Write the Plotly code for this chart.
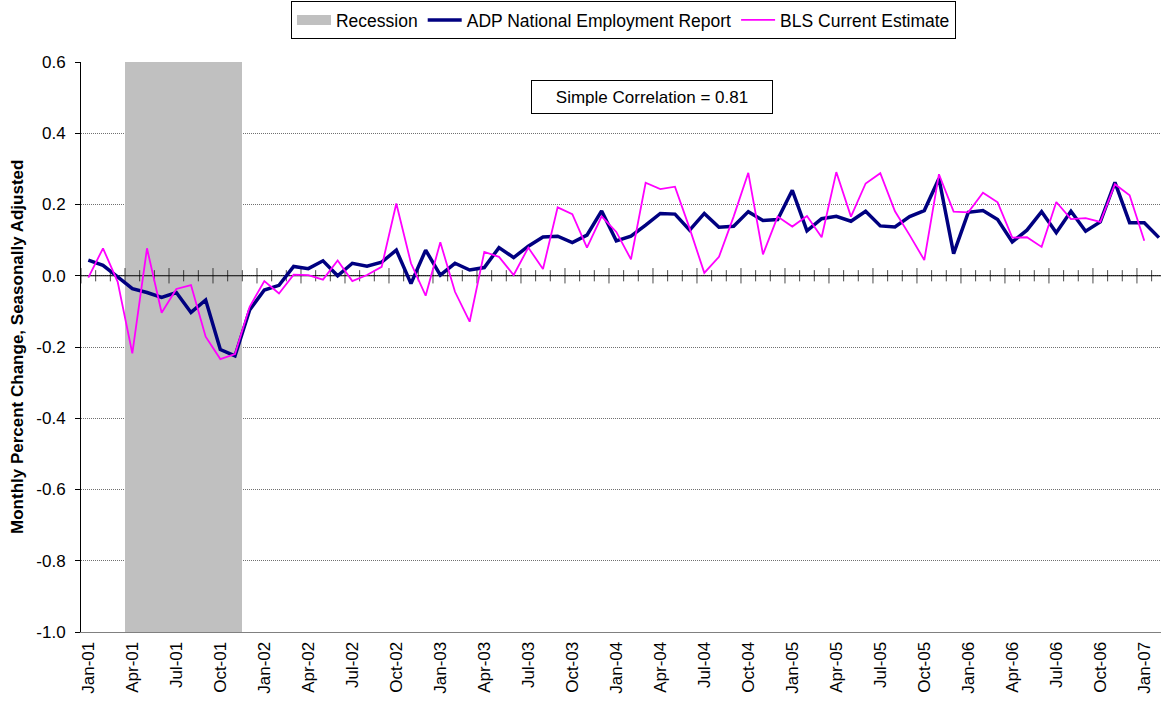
import pandas as pd
import plotly.graph_objects as go

months = pd.date_range("2001-01-01", periods=74, freq="MS").strftime("%b-%y").tolist()

adp = [0.044, 0.029, -0.003, -0.036, -0.047, -0.061, -0.047, -0.103, -0.068, -0.207,
       -0.225, -0.096, -0.040, -0.027, 0.026, 0.020, 0.042, 0.000, 0.035, 0.027,
       0.038, 0.072, -0.022, 0.072, 0.002, 0.035, 0.016, 0.023, 0.079, 0.051,
       0.083, 0.109, 0.111, 0.093, 0.114, 0.182, 0.098, 0.111, 0.142, 0.175,
       0.173, 0.128, 0.175, 0.136, 0.139, 0.180, 0.155, 0.158, 0.240, 0.126,
       0.160, 0.167, 0.153, 0.181, 0.140, 0.137, 0.166, 0.183, 0.273, 0.062,
       0.178, 0.183, 0.158, 0.095, 0.128, 0.180, 0.121, 0.181, 0.125, 0.151,
       0.262, 0.149, 0.149, 0.107]

bls = [-0.005, 0.077, -0.017, -0.218, 0.077, -0.104, -0.037, -0.026, -0.171, -0.234,
       -0.220, -0.087, -0.015, -0.050, 0.003, 0.002, -0.011, 0.043, -0.015, 0.002,
       0.025, 0.203, 0.035, -0.056, 0.094, -0.045, -0.129, 0.067, 0.053, 0.002,
       0.079, 0.019, 0.192, 0.173, 0.079, 0.167, 0.123, 0.046, 0.261, 0.243,
       0.250, 0.133, 0.008, 0.053, 0.166, 0.289, 0.060, 0.166, 0.138, 0.168,
       0.108, 0.291, 0.166, 0.259, 0.288, 0.181, 0.114, 0.044, 0.285, 0.180,
       0.178, 0.233, 0.206, 0.107, 0.108, 0.081, 0.207, 0.159, 0.162, 0.151,
       0.257, 0.226, 0.098]

recession_months = ["Apr-01", "May-01", "Jun-01", "Jul-01", "Aug-01", "Sep-01", "Oct-01", "Nov-01"]

y_ticks = [-1.0, -0.8, -0.6, -0.4, -0.2, 0.0, 0.2, 0.4, 0.6]
y_tick_labels = ["-1.0", "-0.8", "-0.6", "-0.4", "-0.2", "0.0", "0.2", "0.4", "0.6"]
x_tick_labels = months[::3]
correlation_text = "Simple Correlation = 0.81"
y_title = "Monthly Percent Change, Seasonally Adjusted"

FONT = "Arial, 'Liberation Sans', sans-serif"
FS = 17

y_min, y_max = y_ticks[0], y_ticks[-1]
idx = list(range(len(months)))
rec_x = [months.index(m) for m in recession_months]

fig = go.Figure()

fig.add_trace(go.Bar(
    x=rec_x, y=[y_max - y_min] * len(rec_x), base=y_min, width=1,
    marker=dict(color="#C0C0C0", line=dict(width=0)),
    name="Recession", showlegend=False, hoverinfo="skip"))

# legend entry for the recession shading (wide grey swatch)
fig.add_trace(go.Scatter(
    x=[None], y=[None], mode="lines", name="Recession",
    line=dict(color="#C0C0C0", width=12), hoverinfo="skip"))

# zero-crossing category axis with tick marks at category boundaries
bounds = [k - 0.5 for k in range(len(months) + 1)]
sizes = [11 if k % 3 == 0 else 8 for k in range(len(months) + 1)]
fig.add_trace(go.Scatter(
    x=bounds, y=[0] * len(bounds), mode="lines+markers",
    line=dict(color="black", width=1),
    marker=dict(symbol="line-ns", size=sizes, line=dict(color="black", width=1)),
    showlegend=False, hoverinfo="skip"))

fig.add_trace(go.Scatter(
    x=idx, y=adp, mode="lines", name="ADP National Employment Report",
    line=dict(color="#000080", width=3.5)))

fig.add_trace(go.Scatter(
    x=list(range(len(bls))), y=bls, mode="lines", name="BLS Current Estimate",
    line=dict(color="#FF00FF", width=1.8)))

fig.update_layout(
    width=1161, height=703,
    margin=dict(l=81, r=0, t=62, b=71, autoexpand=False),
    paper_bgcolor="white", plot_bgcolor="white",
    font=dict(family=FONT, size=FS, color="black"),
    bargap=0,
    legend=dict(orientation="h", x=0.5023, xanchor="center", y=1.107, yanchor="top",
                bordercolor="black", borderwidth=1, bgcolor="white",
                font=dict(size=17.5, family=FONT), traceorder="normal",
                itemwidth=34, tracegroupgap=0),
    xaxis=dict(range=[-0.5, 73.14], tickmode="array",
               tickvals=[months.index(m) for m in x_tick_labels], ticktext=x_tick_labels,
               tickangle=-90, ticks="", showgrid=False, zeroline=False,
               showline=True, linecolor="#808080", linewidth=1,
               ticklabelstandoff=2,
               tickfont=dict(size=FS, family=FONT)),
    yaxis=dict(range=[y_min, y_max], tickmode="array", tickvals=y_ticks,
               ticktext=y_tick_labels,
               ticks="outside", ticklen=5, tickcolor="black",
               ticklabelstandoff=6,
               showline=True, linecolor="black", linewidth=1,
               showgrid=True, gridcolor="#707070", griddash="1px,1px", gridwidth=1,
               zeroline=False, tickfont=dict(size=FS, family=FONT)),
    annotations=[
        dict(text=correlation_text, xref="paper", yref="paper",
             x=0.5287, y=0.9386, xanchor="center", yanchor="middle",
             showarrow=False, bordercolor="black", borderwidth=1, borderpad=7,
             bgcolor="white", width=226, height=18,
             font=dict(size=FS, family=FONT)),
        dict(text="<b>" + y_title + "</b>",
             xref="paper", yref="paper", x=-0.0593, y=0.5,
             xanchor="center", yanchor="middle", textangle=-90, showarrow=False,
             font=dict(size=FS, family=FONT)),
    ],
)

fig.write_html("out.html", config={"displayModeBar": False},
               post_script="document.body.style.margin='0px';")
